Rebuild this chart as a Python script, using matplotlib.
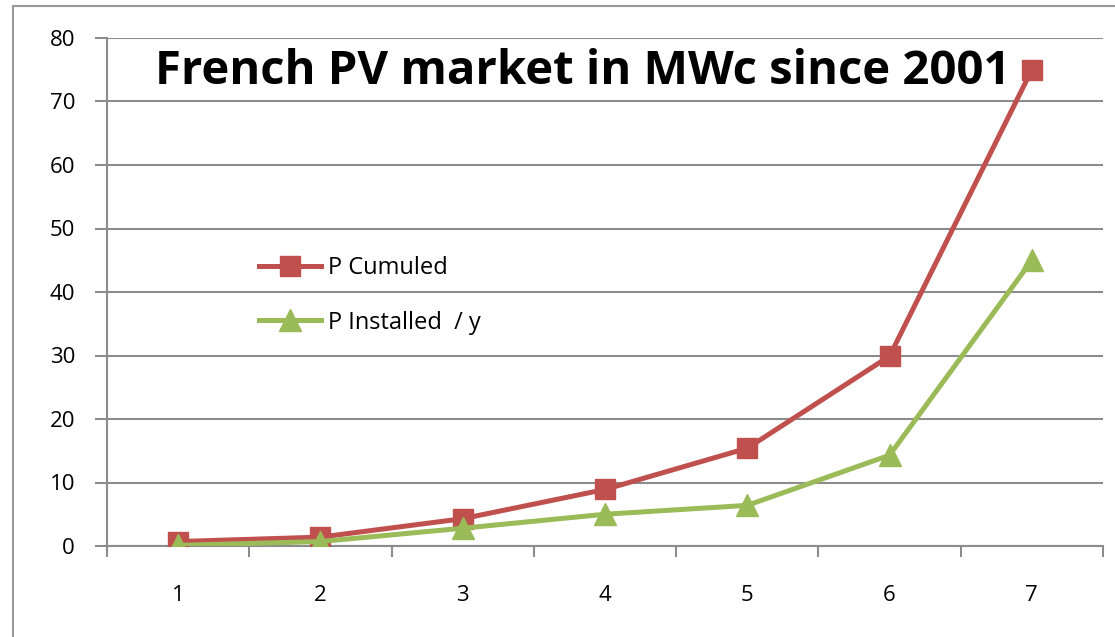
import matplotlib.pyplot as plt
from matplotlib.lines import Line2D

# data
years = [1, 2, 3, 4, 5, 6, 7]
p_cumuled = [0.7, 1.4, 4.3, 8.9, 15.4, 29.9, 75.0]
p_installed = [0.1, 0.7, 2.8, 5.0, 6.4, 14.3, 45.0]

red = '#c0504d'
green = '#9bbb59'
grid_grey = '#8c8c8c'

plt.rcParams['font.family'] = ['Open Sans', 'DejaVu Sans']

fig = plt.figure(figsize=(11.15, 6.37), dpi=100)
ax = fig.add_axes([107 / 1115, 1 - 546 / 637, 996 / 1115, 508 / 637])

# outer chart border (only left and top edges visible in the crop)
fig.add_artist(Line2D([13 / 1115, 13 / 1115], [0, 1 - 6 / 637], color='#999999', lw=1.5,
                      transform=fig.transFigure))
fig.add_artist(Line2D([13 / 1115, 1], [1 - 6 / 637, 1 - 6 / 637], color='#999999', lw=1.5,
                      transform=fig.transFigure))

ax.plot(years, p_cumuled, color=red, lw=3.6, marker='s', ms=15, label='P Cumuled', zorder=3)
ax.plot(years, p_installed, color=green, lw=3.6, marker='^', ms=16, label='P Installed  / y', zorder=3)

ax.set_xlim(0.5, 7.5)
ax.set_ylim(0, 80)
ax.set_yticks(range(0, 81, 10))
ax.set_xticks(years)
ax.set_xticks([x + 0.5 for x in range(0, 8)], minor=True)
ax.tick_params(axis='x', which='major', length=0, pad=28, labelsize=16)
ax.tick_params(axis='x', which='minor', length=8, width=1.5, color=grid_grey)
ax.tick_params(axis='y', length=9, width=1.5, color=grid_grey, pad=14, labelsize=16)

ax.grid(axis='y', color=grid_grey, lw=1.5)
ax.set_axisbelow(True)
for side in ['top', 'right']:
    ax.spines[side].set_visible(False)
for side in ['left', 'bottom']:
    ax.spines[side].set_color(grid_grey)
    ax.spines[side].set_linewidth(1.5)

ax.text(0.478, 0.935, 'French PV market in MWc since 2001', transform=ax.transAxes,
        ha='center', va='center', fontsize=34, fontweight='bold', color='black')

leg = ax.legend(loc='upper left', bbox_to_anchor=(0.134, 0.608), frameon=False,
                fontsize=17, handlelength=2.6, labelspacing=1.3, borderpad=0.3,
                handletextpad=0.3)

fig.savefig('out.png', dpi=100)
